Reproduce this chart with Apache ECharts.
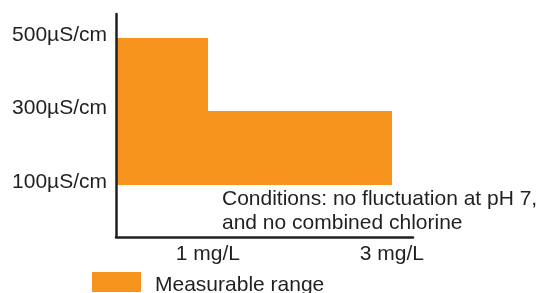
<!DOCTYPE html>
<html>
<head>
<meta charset="utf-8">
<script src="https://cdn.jsdelivr.net/npm/echarts@6/dist/echarts.min.js"></script>
<style>
  html, body { margin: 0; padding: 0; background: #fff; }
  #chart { width: 544px; height: 293px; }
</style>
</head>
<body>
<div id="chart"></div>
<script>
// boundaries of concentration (mg/L) for each block
const concStart = [0, 1];
const concEnd = [1, 3];
// conductivity range (µS/cm)
const condLow = [100, 100];
const condHigh = [500, 300];
// tick labels
const xTicks = [1, 3];
const yTicks = [100, 300, 500];

const orange = "#F7941D";
const ink = "#231F20";
const font = "'Liberation Sans', Arial, sans-serif";

const blocks = concStart.map((s, i) => [s, concEnd[i], condLow[i], condHigh[i]]);

const chart = echarts.init(document.getElementById("chart"));

chart.setOption({
  animation: false,
  textStyle: { fontFamily: font },
  grid: { left: 116, top: 14, width: 297, height: 223 },
  xAxis: {
    type: "value",
    min: 0,
    max: 3.23,
    z: 10,
    splitLine: { show: false },
    axisTick: { show: false },
    axisLine: { show: true, onZero: false, lineStyle: { color: ink, width: 2.5 } },
    axisLabel: {
      customValues: xTicks,
      formatter: (v) => v + " mg/L",
      color: ink,
      fontSize: 21,
      fontFamily: font,
      margin: 7
    }
  },
  yAxis: {
    type: "value",
    min: -41.5,
    max: 565,
    z: 10,
    splitLine: { show: false },
    axisTick: { show: false },
    axisLine: { show: true, onZero: false, lineStyle: { color: ink, width: 2.5 } },
    axisLabel: {
      customValues: yTicks,
      formatter: (v) => "{v|" + v + "µS/cm}",
      margin: 9,
      rich: {
        v: { color: ink, fontSize: 21, fontFamily: font, padding: [0, 0, 6, 0] }
      }
    }
  },
  legend: {
    left: 92,
    top: 272,
    padding: 0,
    itemWidth: 49,
    itemHeight: 20,
    icon: "rect",
    data: ["Measurable range"],
    formatter: (name) => "{t|" + name + "}",
    textStyle: {
      rich: {
        t: { color: ink, fontSize: 21, fontFamily: font, padding: [7, 0, 0, 9] }
      }
    }
  },
  graphic: [{
    type: "text",
    left: 222,
    top: 187,
    style: {
      text: "Conditions: no fluctuation at pH 7,\nand no combined chlorine",
      fill: ink,
      font: "21px " + font,
      lineHeight: 24
    }
  }],
  series: [{
    name: "Measurable range",
    type: "custom",
    itemStyle: { color: orange },
    encode: { x: [0, 1], y: [2, 3] },
    data: blocks,
    renderItem: function (params, api) {
      // snap to whole pixels so adjoining blocks meet without a seam
      const p0 = api.coord([api.value(0), api.value(3)]).map(Math.round);
      const p1 = api.coord([api.value(1), api.value(2)]).map(Math.round);
      return {
        type: "rect",
        shape: { x: p0[0], y: p0[1], width: p1[0] - p0[0], height: p1[1] - p0[1] },
        style: { fill: orange }
      };
    }
  }]
});
</script>
</body>
</html>
